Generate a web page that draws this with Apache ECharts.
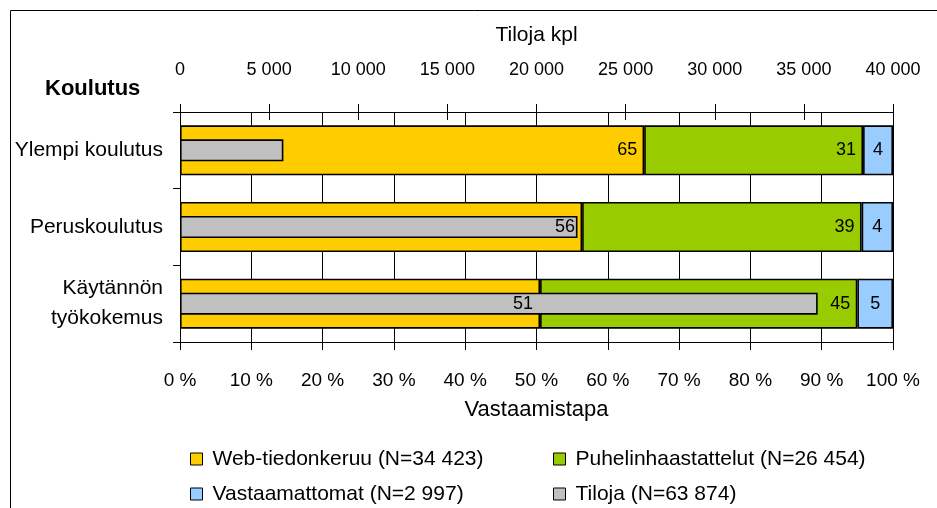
<!DOCTYPE html>
<html>
<head>
<meta charset="utf-8">
<script src="https://cdn.jsdelivr.net/npm/echarts@6/dist/echarts.min.js"></script>
<style>
  html, body { margin: 0; padding: 0; background: #fff; }
  #chart { width: 937px; height: 508px; }
</style>
</head>
<body>
<div id="chart"></div>
<script>
// Education groups (top to bottom)
const categories = ['Ylempi koulutus', 'Peruskoulutus', 'Käytännön\ntyökokemus'];

// Share of answers by response mode, % per group
const webShare = [65.1, 56.4, 50.5];
const phoneShare = [30.7, 39.2, 44.5];
const noAnswerShare = [4.2, 4.4, 5.0];

// Number of farms per group (top axis)
const farmCounts = [5800, 22300, 35774];

// Tick labels
const pctTicks = [0, 10, 20, 30, 40, 50, 60, 70, 80, 90, 100];
const farmTicks = [0, 5000, 10000, 15000, 20000, 25000, 30000, 35000, 40000];

// Legend entries
const seriesNames = [
  'Web-tiedonkeruu (N=34 423)',
  'Puhelinhaastattelut (N=26 454)',
  'Vastaamattomat (N=2 997)',
  'Tiloja (N=63 874)'
];

const FONT = "'Liberation Sans', Arial, sans-serif";
const BLACK = '#000';

function spaced(v) {
  return String(v).replace(/\B(?=(\d{3})+(?!\d))/g, ' ');
}

const chart = echarts.init(document.getElementById('chart'), null, { renderer: 'canvas' });

const barBorder = { borderColor: BLACK, borderWidth: 1.6 };
const valueLabel = (pos) => ({
  show: true,
  position: pos,
  distance: 7,
  color: BLACK,
  fontFamily: FONT,
  fontSize: 18,
  formatter: (p) => String(Math.round(p.value))
});

function legendAt(name, left, top) {
  return {
    data: [name],
    left: left,
    top: top,
    padding: 0,
    itemWidth: 12,
    itemHeight: 12,
    icon: 'rect',
    selectedMode: false,
    itemStyle: { borderColor: BLACK, borderWidth: 1 },
    textStyle: { fontFamily: FONT, fontSize: 21, color: BLACK, lineHeight: 22, padding: [0, 0, 0, 5] }
  };
}

const option = {
  animation: false,
  backgroundColor: '#fff',
  grid: { left: 180, right: 44, top: 112, bottom: 166, containLabel: false },
  graphic: [
    {
      type: 'rect',
      shape: { x: 10.5, y: 10.5, width: 1000, height: 600 },
      style: { fill: 'none', stroke: BLACK, lineWidth: 1 },
      silent: true
    },
    {
      type: 'text',
      x: 45,
      y: 89,
      style: { text: 'Koulutus', font: 'bold 22px ' + FONT, fill: BLACK, verticalAlign: 'middle' },
      silent: true
    }
  ],
  legend: [
    legendAt(seriesNames[0], 190, 448),
    legendAt(seriesNames[1], 553, 448),
    legendAt(seriesNames[2], 190, 483),
    legendAt(seriesNames[3], 553, 483)
  ],
  xAxis: [
    {
      // percent scale (bottom)
      type: 'value',
      position: 'bottom',
      min: pctTicks[0],
      max: pctTicks[pctTicks.length - 1],
      interval: pctTicks[1] - pctTicks[0],
      name: 'Vastaamistapa',
      nameLocation: 'middle',
      nameGap: 57,
      nameTextStyle: { fontFamily: FONT, fontSize: 22, color: BLACK },
      axisLine: { show: true, lineStyle: { color: BLACK, width: 1 } },
      axisTick: { show: true, length: 8, lineStyle: { color: BLACK } },
      axisLabel: {
        margin: 29, fontFamily: FONT, fontSize: 19, color: BLACK,
        showMinLabel: true, showMaxLabel: true,
        formatter: (v) => v + ' %'
      },
      splitLine: { show: true, lineStyle: { color: BLACK, width: 1 } }
    },
    {
      // farm count scale (top)
      type: 'value',
      position: 'top',
      min: farmTicks[0],
      max: farmTicks[farmTicks.length - 1],
      interval: farmTicks[1] - farmTicks[0],
      name: 'Tiloja kpl',
      nameLocation: 'middle',
      nameGap: 66,
      nameTextStyle: { fontFamily: FONT, fontSize: 21, color: BLACK },
      axisLine: { show: true, lineStyle: { color: BLACK, width: 1 } },
      axisTick: { show: true, length: 8, lineStyle: { color: BLACK } },
      axisLabel: {
        margin: 33, fontFamily: FONT, fontSize: 18, color: BLACK,
        showMinLabel: true, showMaxLabel: true,
        formatter: (v) => spaced(v)
      },
      splitLine: { show: false }
    },
    {
      // inner half of the crossing ticks on the top scale
      type: 'value',
      position: 'top',
      min: farmTicks[0],
      max: farmTicks[farmTicks.length - 1],
      interval: farmTicks[1] - farmTicks[0],
      axisLine: { show: false },
      axisTick: { show: true, inside: true, length: 8, lineStyle: { color: BLACK } },
      axisLabel: { show: false },
      splitLine: { show: false }
    }
  ],
  yAxis: [
    {
      type: 'category',
      data: categories,
      inverse: true,
      axisLine: { show: true, lineStyle: { color: BLACK, width: 1 } },
      axisTick: { show: true, length: 7, alignWithLabel: false, lineStyle: { color: BLACK } },
      axisLabel: { margin: 17, fontFamily: FONT, fontSize: 21, color: BLACK, lineHeight: 30, align: 'right' },
      splitLine: { show: false }
    },
    {
      type: 'category',
      data: categories,
      inverse: true,
      show: false
    }
  ],
  series: [
    {
      name: seriesNames[0],
      type: 'bar',
      stack: 'share',
      xAxisIndex: 0,
      yAxisIndex: 0,
      barWidth: 50,
      data: webShare,
      itemStyle: Object.assign({ color: '#FFCC00' }, barBorder),
      label: valueLabel('insideRight')
    },
    {
      name: seriesNames[1],
      type: 'bar',
      stack: 'share',
      xAxisIndex: 0,
      yAxisIndex: 0,
      barWidth: 50,
      data: phoneShare,
      itemStyle: Object.assign({ color: '#99CC00' }, barBorder),
      label: valueLabel('insideRight')
    },
    {
      name: seriesNames[2],
      type: 'bar',
      stack: 'share',
      xAxisIndex: 0,
      yAxisIndex: 0,
      barWidth: 50,
      data: noAnswerShare,
      itemStyle: Object.assign({ color: '#99CCFF' }, barBorder),
      label: valueLabel('inside')
    },
    {
      name: seriesNames[3],
      type: 'bar',
      xAxisIndex: 1,
      yAxisIndex: 1,
      barWidth: 22,
      data: farmCounts,
      itemStyle: Object.assign({ color: '#C0C0C0' }, barBorder)
    }
  ]
};

chart.setOption(option);
</script>
</body>
</html>
